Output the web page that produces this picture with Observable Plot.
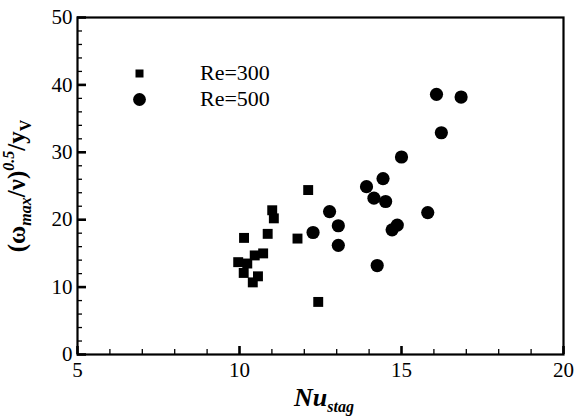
<!DOCTYPE html>
<html>
<head>
<meta charset="utf-8">
<script src="https://cdn.jsdelivr.net/npm/d3@7"></script>
<script src="https://cdn.jsdelivr.net/npm/@observablehq/plot@0.6"></script>
<style>
  body { margin: 0; background: #fff; font-family: "Liberation Serif", serif; color: #000; }
  #wrap { position: relative; width: 584px; height: 416px; }
  #chart svg { display: block; }
  #symbols { position: absolute; left: 0; top: 0; }
  .lab { position: absolute; white-space: nowrap; line-height: 1; }
  #xtitle { left: 324px; top: 385px; transform: translateX(-50%); font-size: 26px; font-weight: bold; font-style: italic; height: 26px; }
  #ytitle { left: 15.6px; top: 186px; transform: translate(-50%, -50%) rotate(-90deg); font-size: 25px; font-weight: bold; height: 25px; }
  .sub, .sup { position: relative; font-size: 16px; }
  .sub { top: 6px; }
  .sup { top: -11px; font-style: italic; }
  .it { font-style: italic; }
  .leg { left: 200px; font-size: 22px; height: 22px; }
</style>
</head>
<body>
<div id="wrap">
  <div id="chart"></div>
  <svg id="symbols" width="584" height="130"></svg>
  <div id="xtitle" class="lab">Nu<span class="sub">stag</span></div>
  <div id="ytitle" class="lab">(ω<span class="sub it">max</span>/ν)<span class="sup">0.5</span>/y<span class="sub">V</span></div>
</div>
<script>
// Stagnation Nusselt number vs. normalised vortex strength, two Reynolds numbers
const re300Nu    = [10.14, 11.01, 11.06, 10.87, 10.73, 10.47, 9.96, 10.24, 10.13, 10.57, 10.41, 11.79, 12.12, 12.43];
const re300Omega = [17.3, 21.4, 20.2, 17.9, 15.0, 14.7, 13.7, 13.5, 12.1, 11.6, 10.7, 17.2, 24.4, 7.8];

const re500Nu    = [16.08, 16.84, 16.23, 15.00, 14.43, 13.92, 14.15, 14.51, 12.78, 15.81, 13.05, 12.27, 14.87, 14.71, 13.05, 14.25];
const re500Omega = [38.6, 38.2, 32.9, 29.3, 26.1, 24.9, 23.2, 22.7, 21.2, 21.05, 19.1, 18.1, 19.2, 18.5, 16.2, 13.2];

const xMajor = [5, 10, 15, 20];
const xMinor = [6, 7, 8, 9, 11, 12, 13, 14, 16, 17, 18, 19];
const yMajor = [0, 10, 20, 30, 40, 50];
const yMinor = [2, 4, 6, 8, 12, 14, 16, 18, 22, 24, 26, 28, 32, 34, 36, 38, 42, 44, 46, 48];

const seriesNames = ["Re=300", "Re=500"];

const re300 = re300Nu.map((x, i) => ({x, y: re300Omega[i]}));
const re500 = re500Nu.map((x, i) => ({x, y: re500Omega[i]}));

const W = 584, H = 390;
const margin = {top: 17, right: 21, bottom: 36, left: 77};
const plotW = W - margin.left - margin.right;
const plotH = H - margin.top - margin.bottom;
const serif = "Liberation Serif";

const chart = Plot.plot({
  width: W,
  height: H,
  marginTop: margin.top,
  marginRight: margin.right,
  marginBottom: margin.bottom,
  marginLeft: margin.left,
  style: {fontFamily: serif, fontSize: "21px"},
  x: {domain: [5, 20]},
  y: {domain: [0, 50]},
  marks: [
    // inward tick marks
    Plot.tickX(xMinor, {x: d => d, insetTop: plotH - 5, stroke: "#000", strokeWidth: 1.3}),
    Plot.tickX(xMajor, {x: d => d, insetTop: plotH - 8, stroke: "#000", strokeWidth: 2.6}),
    Plot.tickY(yMinor, {y: d => d, insetRight: plotW - 5, stroke: "#000", strokeWidth: 1.3}),
    Plot.tickY(yMajor, {y: d => d, insetRight: plotW - 9, stroke: "#000", strokeWidth: 2.6}),
    Plot.axisX(xMajor, {tickSize: 0, tickPadding: 8, fontSize: 21, fontFamily: serif, label: null}),
    Plot.axisY(yMajor, {tickSize: 0, tickPadding: 5, fontSize: 21, fontFamily: serif, label: null}),
    Plot.frame({stroke: "#000", strokeWidth: 2.2}),
    Plot.dot(re300, {x: "x", y: "y", symbol: "square", r: 5.6, fill: "#000"}),
    Plot.dot(re500, {x: "x", y: "y", symbol: "circle", r: 6.6, fill: "#000"})
  ]
});

document.getElementById("chart").append(chart);

// legend: symbols in a small overlay, names as text beside them
const sym = d3.select("#symbols");
sym.append("rect").attr("x", 135.5).attr("y", 69.5).attr("width", 8).attr("height", 8).attr("fill", "#000");
sym.append("circle").attr("cx", 139.5).attr("cy", 99.5).attr("r", 6.4).attr("fill", "#000");
d3.select("#wrap").selectAll("div.leg").data(seriesNames).join("div")
  .attr("class", "lab leg")
  .style("top", (d, i) => (61.6 + i * 26) + "px")
  .text(d => d);
</script>
</body>
</html>
